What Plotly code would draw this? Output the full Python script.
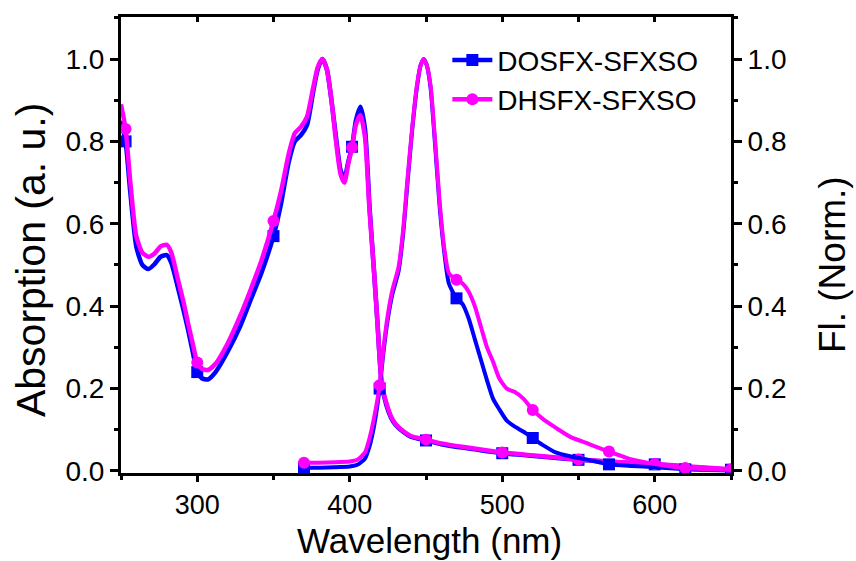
import plotly.graph_objects as go

# ---------------- data ----------------
series_names = ["DOSFX-SFXSO", "DHSFX-SFXSO"]
series_colors = ["#0000FF", "#FF00FF"]

abs_wl = [250, 253, 256, 260, 264, 268, 272, 276, 280, 283, 287, 291, 294, 297, 300,
          303, 307, 312, 320, 328, 335, 342, 350, 355, 360, 364, 368, 372, 376, 379,
          382, 385, 388, 391, 394, 396.5, 399, 401.5, 404, 407, 410, 413, 416, 418,
          421, 424, 427, 430, 435, 440, 445, 450, 460, 475, 500, 525, 550, 575, 600,
          625, 650]
abs_dosfx = [0.85, 0.80, 0.68, 0.545, 0.50, 0.49, 0.502, 0.52, 0.524, 0.505, 0.45, 0.39,
             0.342, 0.29, 0.24, 0.225, 0.222, 0.24, 0.29, 0.35, 0.415, 0.48, 0.57, 0.65,
             0.75, 0.80, 0.815, 0.84, 0.92, 0.975, 1.0, 0.975, 0.9, 0.81, 0.73, 0.71,
             0.75, 0.787, 0.85, 0.884, 0.83, 0.64, 0.48, 0.37, 0.21, 0.16, 0.13, 0.112,
             0.095, 0.083, 0.078, 0.074, 0.065, 0.056, 0.043, 0.035, 0.027, 0.021,
             0.016, 0.009, 0.003]
abs_dhsfx = [0.89, 0.83, 0.706, 0.57, 0.53, 0.52, 0.528, 0.545, 0.549, 0.53, 0.47, 0.41,
             0.358, 0.31, 0.263, 0.248, 0.245, 0.26, 0.31, 0.375, 0.44, 0.51, 0.607, 0.68,
             0.77, 0.82, 0.835, 0.86, 0.93, 0.98, 1.0, 0.975, 0.9, 0.80, 0.72, 0.70,
             0.745, 0.785, 0.84, 0.864, 0.81, 0.63, 0.48, 0.37, 0.21, 0.165, 0.133, 0.114,
             0.097, 0.085, 0.08, 0.076, 0.067, 0.058, 0.045, 0.036, 0.028, 0.022,
             0.017, 0.01, 0.004]
abs_marker_wl = [253, 300, 350, 401.5, 450, 500, 550, 600, 650]

em_wl = [370, 380, 390, 400, 405, 410, 413, 416, 419.6, 422, 425, 428, 432, 435, 438,
         441, 444, 446.5, 448.5, 450.5, 453, 456, 459, 462, 465, 470, 474, 478, 482,
         486, 490, 494, 498, 503, 508, 514, 520, 527, 535, 545, 555, 570, 585, 600,
         620, 635, 650]
em_dosfx = [0.008, 0.008, 0.009, 0.011, 0.015, 0.03, 0.06, 0.11, 0.2, 0.285, 0.37, 0.43,
            0.485, 0.575, 0.705, 0.83, 0.93, 0.985, 1.0, 0.985, 0.93, 0.79, 0.64, 0.53,
            0.455, 0.419, 0.405, 0.37, 0.32, 0.27, 0.22, 0.175, 0.15, 0.122, 0.108,
            0.095, 0.08, 0.062, 0.045, 0.035, 0.028, 0.016, 0.012, 0.009, 0.004,
            0.002, 0.001]
em_dhsfx = [0.02, 0.02, 0.021, 0.023, 0.027, 0.045, 0.08, 0.13, 0.208, 0.295, 0.38, 0.44,
            0.495, 0.585, 0.715, 0.835, 0.935, 0.985, 1.0, 0.985, 0.935, 0.80, 0.65, 0.54,
            0.48, 0.464, 0.455, 0.435, 0.40, 0.35, 0.30, 0.265, 0.225, 0.2, 0.192,
            0.175, 0.148, 0.125, 0.105, 0.082, 0.068, 0.047, 0.028, 0.017, 0.007,
            0.004, 0.002]
em_marker_wl = [370, 419.6, 470, 520, 570, 620]

x_ticks = [300, 400, 500, 600]
y_ticks = [0.0, 0.2, 0.4, 0.6, 0.8, 1.0]
y_ticktext = ["0.0", "0.2", "0.4", "0.6", "0.8", "1.0"]

x_title = "Wavelength (nm)"
y_title = "Absorption (a. u.)"
y2_title = "Fl. (Norm.)"

# ---------------- figure ----------------
FONT = "Liberation Sans, Arial, sans-serif"
symbols = ["square", "circle"]
fig = go.Figure()


def pick(wl, vals, wanted):
    return [vals[wl.index(w)] for w in wanted]


abs_sets = [abs_dosfx, abs_dhsfx]
em_sets = [em_dosfx, em_dhsfx]

for i in range(2):
    fig.add_trace(go.Scatter(x=abs_wl, y=abs_sets[i], mode="lines",
                             line=dict(color=series_colors[i], width=4.5, shape="spline", smoothing=0.6),
                             showlegend=False, xaxis="x", yaxis="y"))
    fig.add_trace(go.Scatter(x=abs_marker_wl, y=pick(abs_wl, abs_sets[i], abs_marker_wl),
                             mode="markers",
                             marker=dict(color=series_colors[i], size=12, symbol=symbols[i]),
                             showlegend=False, xaxis="x", yaxis="y"))
for i in range(2):
    fig.add_trace(go.Scatter(x=em_wl, y=em_sets[i], mode="lines",
                             line=dict(color=series_colors[i], width=4, shape="spline", smoothing=0.6),
                             showlegend=False, xaxis="x2", yaxis="y2"))
    fig.add_trace(go.Scatter(x=em_marker_wl, y=pick(em_wl, em_sets[i], em_marker_wl),
                             mode="markers",
                             marker=dict(color=series_colors[i], size=12, symbol=symbols[i]),
                             showlegend=False, xaxis="x2", yaxis="y2"))

for i in range(2):
    fig.add_trace(go.Scatter(x=[None], y=[None], mode="lines+markers", name=series_names[i],
                             line=dict(color=series_colors[i], width=4.5),
                             marker=dict(color=series_colors[i], size=12, symbol=symbols[i]),
                             xaxis="x", yaxis="y"))

axis_common = dict(showgrid=False, zeroline=False, showline=True, linecolor="black",
                   linewidth=3, tickcolor="black", tickwidth=2.5,
                   tickfont=dict(family=FONT, size=28, color="black"))

fig.update_layout(
    width=856, height=561,
    margin=dict(l=121, r=125, t=17, b=88),
    paper_bgcolor="white", plot_bgcolor="white",
    font=dict(family=FONT, color="black"),
    xaxis=dict(range=[250, 650], tickvals=x_ticks, ticks="outside", ticklen=6,
               minor=dict(dtick=50, ticks="outside", ticklen=4, tickwidth=2.5, tickcolor="black"),
               **{**axis_common, "tickfont": dict(family=FONT, size=27, color="black")}),
    yaxis=dict(range=[-0.005, 1.102], tickvals=y_ticks, ticktext=y_ticktext,
               ticks="outside", ticklen=8,
               minor=dict(dtick=0.1, ticks="outside", ticklen=4, tickwidth=2.5, tickcolor="black"),
               **axis_common),
    xaxis2=dict(range=[250, 650], overlaying="x", side="top", anchor="y2",
                showticklabels=False, ticks="inside", ticklen=5, dtick=50, tick0=250,
                **{k: v for k, v in axis_common.items() if k != "tickfont"}),
    yaxis2=dict(range=[-0.005, 1.102], overlaying="y", side="right", anchor="x2",
                tickvals=y_ticks, ticktext=y_ticktext, ticks="outside", ticklen=8,
                minor=dict(dtick=0.1, ticks="outside", ticklen=4, tickwidth=2.5, tickcolor="black"),
                **axis_common),
    legend=dict(x=0.535, y=0.96, xanchor="left", yanchor="top",
                bgcolor="rgba(0,0,0,0)", font=dict(family=FONT, size=28, color="black"),
                itemwidth=40, tracegroupgap=0),
    annotations=[
        dict(text=x_title, xref="paper", yref="paper", x=0.505, y=-0.147,
             xanchor="center", yanchor="middle", showarrow=False,
             font=dict(family=FONT, size=35, color="black")),
        dict(text=y_title, xref="paper", yref="paper", x=-0.1475, y=0.467,
             xanchor="center", yanchor="middle", showarrow=False, textangle=-90,
             font=dict(family=FONT, size=41, color="black")),
        dict(text=y2_title, xref="paper", yref="paper", x=1.1656, y=0.456,
             xanchor="center", yanchor="middle", showarrow=False, textangle=-90,
             font=dict(family=FONT, size=37, color="black")),
    ],
)

fig.write_html("out.html")
